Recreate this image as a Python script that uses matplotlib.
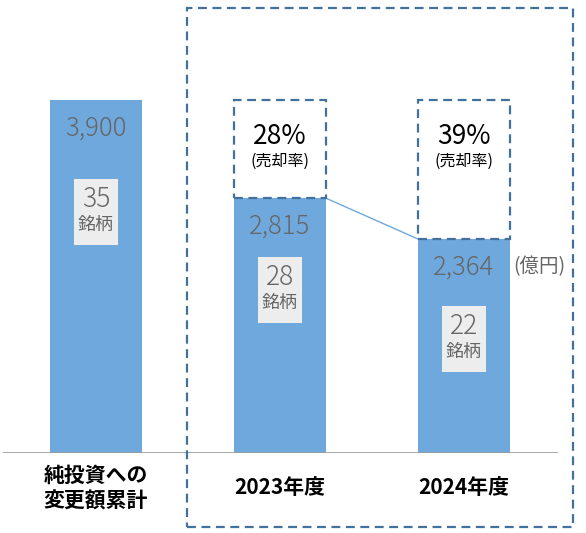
import matplotlib
matplotlib.use('Agg')
import matplotlib.pyplot as plt
from matplotlib.patches import Rectangle

plt.rcParams['font.family'] = ['Noto Sans CJK JP', 'DejaVu Sans']

# データ
categories = ['純投資への\n変更額累計', '2023年度', '2024年度']
values = [3900, 2815, 2364]
stocks = [35, 28, 22]
sale_rates = [None, 28, 39]
unit_label = '(億円)'

bar_color = '#6FA8DC'
dash_color = '#41719C'
gray_text = '#666666'

W, H = 586, 533
fig = plt.figure(figsize=(W / 100, H / 100), dpi=100)

# 軸: x=0 が 96px, 間隔 184px / y=0 が 453px
base_px = 453
px_per_unit = 353 / 3900
ax = fig.add_axes([3 / W, (H - base_px) / H, (558 - 3) / W, base_px / H])
x_left = (3 - 96) / 184
x_right = (558 - 96) / 184
ax.set_xlim(x_left, x_right)
ax.set_ylim(0, base_px / px_per_unit)
ax.axis('off')
ax.axhline(0, color='#9a9a9a', lw=1.2, zorder=3)

xs = range(len(values))
ax.bar(xs, values, width=0.5, color=bar_color, zorder=2)

u = 1 / px_per_unit  # 1px をデータ単位に
box_offsets = [112, 92, 100]
for x, v, n, off in zip(xs, values, stocks, box_offsets):
    ax.text(x, v - 28 * u, f'{v:,}', ha='center', va='center',
            fontsize=18.5, color=gray_text, fontweight='light', zorder=4)
    # 銘柄数の箱
    cy = v - off * u
    ax.add_patch(Rectangle((x - 22 / 184, cy - 33 * u), 44 / 184, 66 * u,
                           facecolor='#EDEDED', edgecolor='none', zorder=3))
    ax.text(x, cy + 13 * u, f'{n}', ha='center', va='center',
            fontsize=19, color=gray_text, fontweight='light', zorder=4)
    ax.text(x, cy - 13 * u, '銘柄', ha='center', va='center',
            fontsize=13, color=gray_text, zorder=4)

# 売却率の点線ボックス
for x, v, r in zip(xs, values, sale_rates):
    if r is None:
        continue
    top = values[0]
    ax.add_patch(Rectangle((x - 0.25, v), 0.5, top - v, facecolor='white',
                           edgecolor=dash_color, lw=1.6, ls=(0, (4, 2.5)),
                           zorder=3))
    ax.text(x, top - 36 * u, f'{r}%', ha='center', va='center',
            fontsize=19, color='black', zorder=4)
    ax.text(x, top - 61 * u, '(売却率)', ha='center', va='center',
            fontsize=11.5, color='black', zorder=4)

# 2023→2024 の連結線
ax.plot([1 + 0.25, 2 - 0.25], [values[1], values[2]], color=bar_color,
        lw=1, zorder=2)

ax.text(2 + 0.27, values[2] - 28 * u, unit_label, ha='left', va='center',
        fontsize=14, color=gray_text)

# カテゴリラベル
for x, c in zip(xs, categories):
    ax.text(x, -35 * u, c, ha='center', va='center', fontsize=15,
            fontweight='bold', color='black', linespacing=1.25)

# 外側の点線枠
fig.patches.append(Rectangle((187 / W, (H - 527) / H), (573 - 187) / W,
                             (527 - 8) / H, transform=fig.transFigure,
                             fill=False, edgecolor=dash_color, lw=1.6,
                             ls=(0, (4, 2.5))))

fig.savefig('out.png', dpi=100)
